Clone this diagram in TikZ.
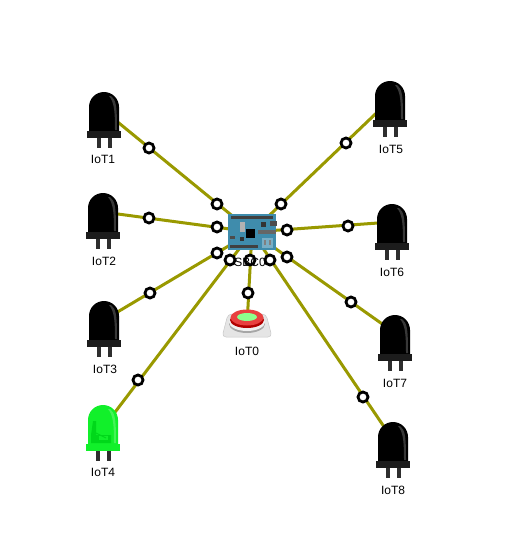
\documentclass[tikz,border=0pt]{standalone}
\usepackage{fontspec}
\setmainfont{Liberation Sans}
\definecolor{wire}{HTML}{999900}
\definecolor{board}{HTML}{3F8CAC}
\definecolor{ledg}{HTML}{11F02A}
\definecolor{ledd}{HTML}{00D81A}
\definecolor{offflange}{HTML}{1C1C1C}
\definecolor{legc}{HTML}{2E2E2E}
\definecolor{btnred}{HTML}{E8403F}
\tikzset{
  wireline/.style={draw=wire,line width=3pt},
  ring/.style={circle,draw=black,line width=2.8pt,fill=white,inner sep=0pt,minimum size=10pt},
  lbl/.style={inner sep=0pt,font=\fontsize{12}{14}\selectfont,text=black},
  pics/led/.style 2 args={code={
    \fill[#1] (-15,39) -- (-15,15) .. controls (-15,6.7) and (-8.3,0) .. (0,0) .. controls (8.3,0) and (15,6.7) .. (15,15) -- (15,39) -- cycle;
    \fill[#2] (-17,39) rectangle (17,46);
    \fill[legc] (-7,46) rectangle (-3,56);
    \fill[legc] (4,46) rectangle (8,56);
    \fill[white,opacity=.22] (7,4) .. controls (12,8) and (13,13) .. (13,38) -- (11,38) .. controls (11,18) and (10,10) .. (5,4) -- cycle;
  }},
  pics/offled/.style={code={\pic {led={black}{offflange}};}},
  pics/onled/.style={code={
    \pic {led={ledg}{ledg}};
    \fill[ledd] (-10,16) -- (-7,16) -- (-7,30) -- (8,30) -- (8,38) -- (-12,38) -- (-12,30) -- cycle;
    \fill[ledg] (-4,31) -- (5,31) -- (5,35) -- (-4,35) -- cycle;
    \draw[ledd,line width=1pt] (-7,28) -- (3,33);
  }}
}
\begin{document}
\begin{tikzpicture}[x=1pt,y=-1pt]
\useasboundingbox (0,0) rectangle (504,551);
% anchors of the connectors
\coordinate (c) at (252,232);
\coordinate (t0) at (247,325);
\coordinate (t1) at (103,110);
\coordinate (t2) at (103,212);
\coordinate (t3) at (104,320);
\coordinate (t4) at (103,428);
\coordinate (t5) at (390,100);
\coordinate (t6) at (392,222);
\coordinate (t7) at (395,333);
\coordinate (t8) at (393,440);
% connectors
\foreach \t in {t0,t1,t2,t3,t4,t5,t6,t7,t8} \draw[wireline] (c) -- (\t);
% LEDs
\pic at (104,92) {offled};
\pic at (103,193) {offled};
\pic at (104,301) {offled};
\pic at (103,405) {onled};
\pic at (390,81) {offled};
\pic at (392,204) {offled};
\pic at (395,315) {offled};
\pic at (393,422) {offled};
% button
\fill[black!10,rounded corners=4pt] (228,314) -- (266,314) -- (272,337) -- (222,337) -- cycle;
\draw[black!22,line width=.5pt,rounded corners=4pt] (228,314) -- (266,314) -- (272,337) -- (222,337) -- cycle;
\fill[black!35] (247,324) ellipse (18 and 9);
\fill[black!6] (247,322) ellipse (18 and 9);
\fill[red!70!black] (247,320) ellipse (17 and 8);
\fill[btnred] (247,317.5) ellipse (16.5 and 8);
\fill[green!45!white] (247,317) ellipse (10 and 4);
% board
\node[draw=none,fill=board,minimum width=48pt,minimum height=36pt,inner sep=0pt] (sbc) at (252,232) {};
\fill[black!75] (231,216) rectangle (273,219);
\fill[black!75] (230,245) rectangle (258,248);
\fill[black] (246,229) rectangle (255,238);
\fill[black!60] (258,230) rectangle (276,234);
\fill[black!80] (261,222) rectangle (266,227);
\fill[black!70] (270,221) rectangle (277,226);
\fill[black!80] (240,237) rectangle (244,241);
\fill[black!30] (240,222) rectangle (245,232);
\fill[black!70] (230,236) rectangle (235,239);
\fill[board!70!white] (262,238) rectangle (273,248);
\fill[black!50] (264,240) rectangle (266,245);
\fill[black!50] (269,240) rectangle (271,245);
% rings
\foreach \n/\p in {a1/{217,204},a2/{217,227},a3/{217,253},a4/{230,260},a0/{250,260},a5/{281,204},a6/{287,230},a7/{287,257},a8/{270,260},
  m0/{248,293},m1/{149,148},m2/{149,218},m3/{150,293},m4/{138,380},m5/{346,143},m6/{348,226},m7/{351,302},m8/{363,397}}
  \node[ring] (\n) at (\p) {};
% labels
\node[lbl] (lsbc) at (250,262) {SBC0};
\node[lbl] (l0) at (247,351) {IoT0};
\node[lbl] (l1) at (103,159) {IoT1};
\node[lbl] (l2) at (104,261) {IoT2};
\node[lbl] (l3) at (105,369) {IoT3};
\node[lbl] (l4) at (103,472) {IoT4};
\node[lbl] (l5) at (391,149) {IoT5};
\node[lbl] (l6) at (392,272) {IoT6};
\node[lbl] (l7) at (395,383) {IoT7};
\node[lbl] (l8) at (393,490) {IoT8};
\end{tikzpicture}
\end{document}
